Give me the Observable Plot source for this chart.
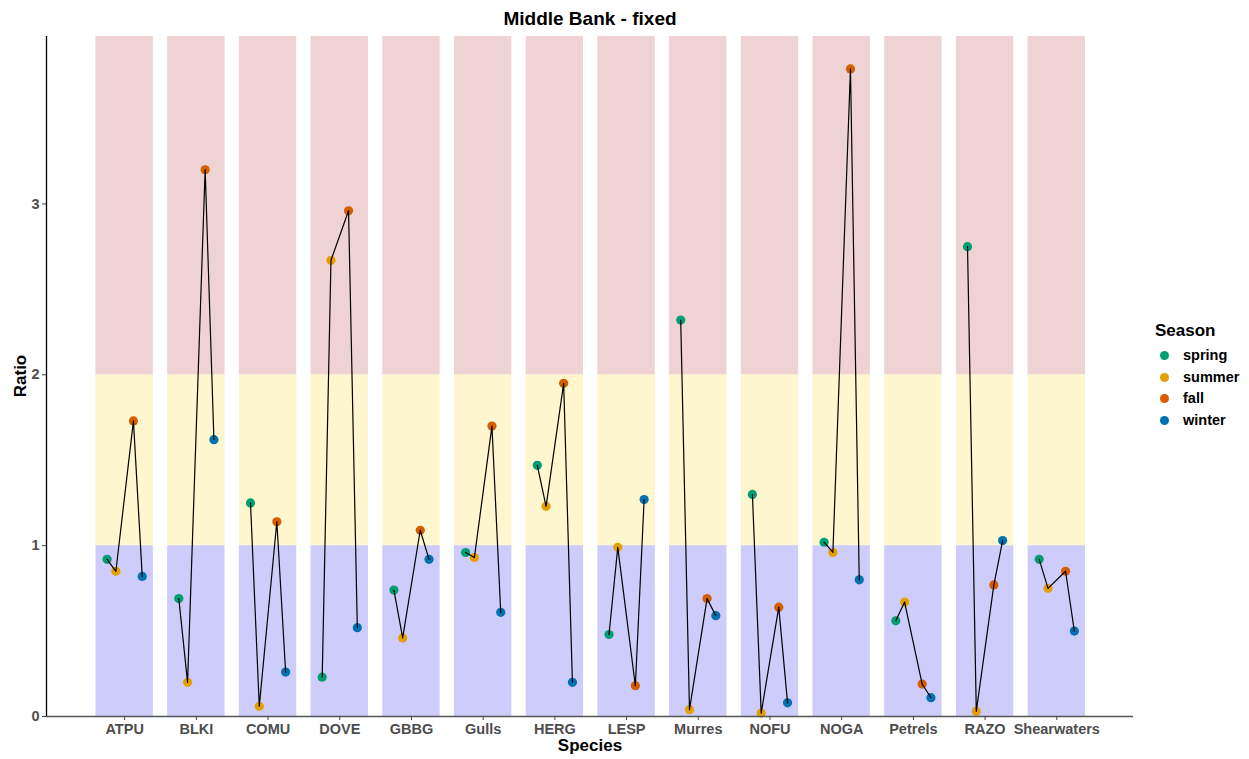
<!DOCTYPE html>
<html><head><meta charset="utf-8">
<script src="https://cdn.jsdelivr.net/npm/d3@7"></script>
<script src="https://cdn.jsdelivr.net/npm/@observablehq/plot@0.6"></script>
<style>
body{margin:0;background:#fff;font-family:"Liberation Sans",Arial,sans-serif;}
#wrap{position:relative;width:1249px;height:759px;overflow:hidden;}
#wrap svg{position:absolute;left:0;top:0;}
.t{position:absolute;font-weight:bold;color:#000;white-space:nowrap;line-height:1;}
.leg{position:absolute;left:1160px;height:20px;display:flex;align-items:center;font-weight:bold;font-size:14.5px;color:#000;line-height:1;}
.leg span.d{display:inline-block;width:9px;height:9px;border-radius:50%;margin-right:14px;}
</style></head><body>
<div id="wrap"></div>
<script>
const species = ["ATPU","BLKI","COMU","DOVE","GBBG","Gulls","HERG","LESP","Murres","NOFU","NOGA","Petrels","RAZO","Shearwaters"];
const seasons = ["spring","summer","fall","winter"];
const spring = [0.92,0.69,1.25,0.23,0.74,0.96,1.47,0.48,2.32,1.30,1.02,0.56,2.75,0.92];
const summer = [0.85,0.20,0.06,2.67,0.46,0.93,1.23,0.99,0.04,0.02,0.96,0.67,0.03,0.75];
const fall   = [1.73,3.20,1.14,2.96,1.09,1.70,1.95,0.18,0.69,0.64,3.79,0.19,0.77,0.85];
const winter = [0.82,1.62,0.26,0.52,0.92,0.61,0.20,1.27,0.59,0.08,0.80,0.11,1.03,0.50];
const seasonColors = ["#009E73","#E69F00","#D55E00","#0072B2"];
const yTicks = [0,1,2,3];
const zoneLow = [0,1,2];
const zoneHigh = [1,2,3.98];
const zoneColors = ["#CDCCFA","#FDF6CE","#EFD3D4"];

const values = [spring, summer, fall, winter];
const rows = species.flatMap((s,i) => seasons.map((se,k) => ({species:s, i, season:se, ratio:values[k][i]})));
const zones = species.flatMap((s,i) => zoneLow.map((lo,z) => ({i, z, y1:lo, y2:zoneHigh[z]})));
const dodge = d3.scalePoint(["spring","summer","gap","fall","winter"], [-0.245, 0.245]);
const xv = d => d.i + dodge(d.season);

const chart = Plot.plot({
  width:1249, height:759,
  marginTop:36, marginBottom:43, marginLeft:46, marginRight:116,
  style:{fontFamily:"Liberation Sans, Arial, sans-serif", background:"#fff"},
  x:{type:"linear", domain:[-1.09, 14.07]},
  y:{domain:[0, 3.98]},
  color:{domain:seasons, range:seasonColors},
  marks:[
    ...zoneColors.map((c,z) => Plot.rect(zones.filter(d => d.z === z), {x1:d => d.i - 0.4, x2:d => d.i + 0.4, y1:"y1", y2:"y2", fill:c})),
    Plot.dot(rows, {x:xv, y:"ratio", fill:"season", r:4.6}),
    Plot.line(rows, {x:xv, y:"ratio", z:"species", stroke:"#000", strokeWidth:1.2}),
    Plot.ruleY([0], {stroke:"#555", strokeWidth:1.5}),
    Plot.ruleX([-1.09], {y1:0, y2:3.98, stroke:"#000", strokeWidth:1.3}),
    Plot.axisX({ticks:d3.range(species.length), tickFormat:i => species[i], tickSize:4, tickPadding:3, stroke:"#444", fill:"#4d4d4d", fontWeight:"bold", fontSize:14.5, label:null}),
    Plot.axisY({ticks:yTicks, tickFormat:d3.format("d"), tickSize:4, tickPadding:3, stroke:"#444", fill:"#4d4d4d", fontWeight:"bold", fontSize:14.5, label:null})
  ]
});
const wrap = document.getElementById("wrap");
wrap.appendChild(chart);

function addText(txt, css){ const d=document.createElement("div"); d.className="t"; d.textContent=txt; Object.assign(d.style, css); wrap.appendChild(d); return d; }
addText("Middle Bank - fixed", {left:"590px", top:"9px", fontSize:"19px", transform:"translateX(-50%)"});
addText("Species", {left:"590px", top:"737px", fontSize:"17px", transform:"translateX(-50%)"});
addText("Ratio", {left:"20px", top:"376px", fontSize:"17px", transform:"translate(-50%,-50%) rotate(-90deg)"});
addText("Season", {left:"1155px", top:"322px", fontSize:"17px"});
const legY = [355, 377, 398.5, 420];
seasons.forEach((s,k) => {
  const r = document.createElement("div"); r.className="leg"; r.style.top=(legY[k]-10)+"px";
  const dot=document.createElement("span"); dot.className="d"; dot.style.background=seasonColors[k];
  r.appendChild(dot); r.appendChild(document.createTextNode(s)); wrap.appendChild(r);
});
</script>
</body></html>
